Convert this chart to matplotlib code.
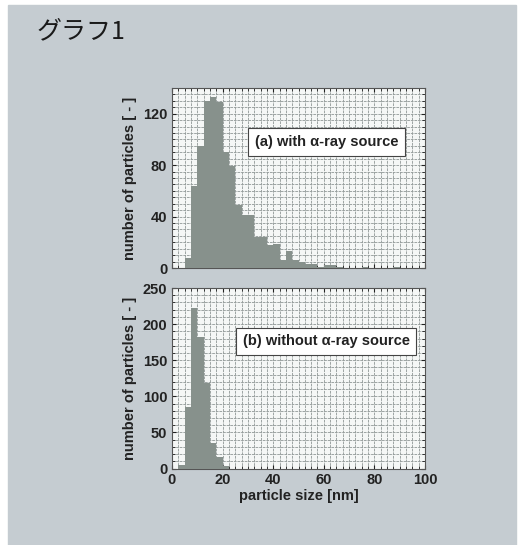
import matplotlib
matplotlib.use("Agg")
import matplotlib.pyplot as plt
from matplotlib.patches import Rectangle
from matplotlib.ticker import MultipleLocator
import numpy as np

plt.rcParams['font.family'] = ['Liberation Sans', 'DejaVu Sans']

# bin left edges [nm], 2.5 nm wide
bins_a = [5, 7.5, 10, 12.5, 15, 17.5, 20, 22.5, 25, 27.5, 30, 32.5, 35, 37.5,
          40, 42.5, 45, 47.5, 50, 52.5, 55, 57.5, 60, 62.5, 65, 75, 87.5]
counts_a = [8, 64, 95, 130, 133, 129, 90, 79, 49, 41, 41, 24, 24, 18,
            19, 6, 13, 6, 5, 3, 3, 1, 2, 2, 1, 1, 1]

bins_b = [2.5, 5, 7.5, 10, 12.5, 15, 17.5, 20]
counts_b = [5, 85, 222, 182, 118, 35, 16, 3]

label_a = "(a) with α-ray source"
label_b = "(b) without α-ray source"

W, H = 522, 545
fig = plt.figure(figsize=(W / 100, H / 100), dpi=100, facecolor='white')
# grey page of the scan
fig.patches.append(Rectangle((8 / W, 0), (516 - 8) / W, 1 - 5 / H,
                             transform=fig.transFigure, color='#c5ccd1', zorder=-1))
fig.text(37 / W, 1 - 31 / H, "グラフ1", fontsize=18, va='center', ha='left',
         family=['Noto Sans CJK JP', 'DejaVu Sans'], color='#1a1a1a')

left = 172 / W
width = 253 / W
ax1 = fig.add_axes([left, 1 - 268 / H, width, 180 / H])
ax2 = fig.add_axes([left, 1 - 468.5 / H, width, 180.5 / H])

fill = '#87918c'
for ax, b, c, ymax, ystep, ymin, lab, ly in [
        (ax1, bins_a, counts_a, 140, 40, 5, label_a, 98),
        (ax2, bins_b, counts_b, 250, 50, 10, label_b, 176)]:
    ax.set_facecolor('#f5f7f6')
    ax.bar(b, c, width=2.5, align='edge', color=fill, edgecolor='none', zorder=3)
    ax.set_xlim(0, 100)
    ax.set_ylim(0, ymax)
    ax.xaxis.set_major_locator(MultipleLocator(20))
    ax.xaxis.set_minor_locator(MultipleLocator(2.5))
    ax.yaxis.set_major_locator(MultipleLocator(ystep))
    ax.yaxis.set_minor_locator(MultipleLocator(ymin))
    ax.grid(True, which='both', color='#979e9d', lw=0.65, ls=(0, (3, 1)), zorder=1)
    ax.tick_params(which='both', direction='in', top=True, right=True,
                   labelsize=10.5, colors='#222222')
    ax.tick_params(which='major', length=3)
    ax.tick_params(which='minor', length=2)
    for t in ax.get_xticklabels() + ax.get_yticklabels():
        t.set_fontweight('bold')
    for s in ax.spines.values():
        s.set_color('#555555')
        s.set_linewidth(0.8)
    ax.set_ylabel("number of particles [ - ]", fontsize=10.5, fontweight='bold',
                  color='#222222', labelpad=4)
    ax.text(61, ly, lab, fontsize=10.5, fontweight='bold', ha='center', va='center',
            color='#222222', zorder=5,
            bbox=dict(boxstyle='square,pad=0.45', fc='white', ec='#444444', lw=0.8))

ax1.tick_params(labelbottom=False)
ax2.set_xlabel("particle size [nm]", fontsize=10.5, fontweight='bold',
               color='#222222', labelpad=1)

fig.savefig("out.png", dpi=100, facecolor=fig.get_facecolor())
